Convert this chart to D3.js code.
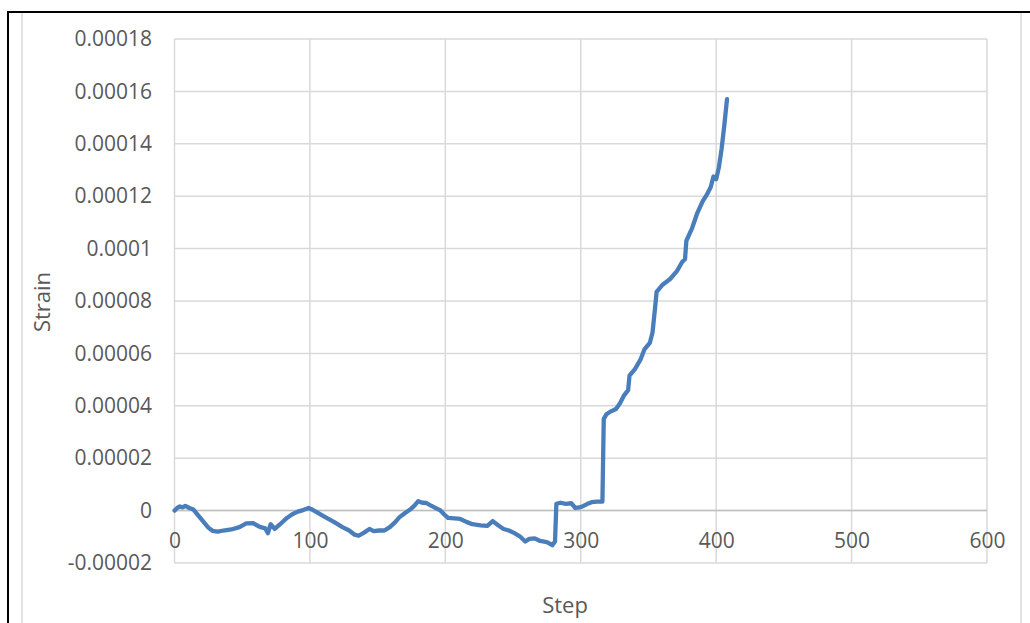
<!DOCTYPE html>
<html>
<head>
<meta charset="utf-8">
<script src="https://cdn.jsdelivr.net/npm/d3@7"></script>
<style>
  html, body { margin: 0; padding: 0; background: #fff; }
  svg { display: block; }
  text { font-family: "Open Sans", "Liberation Sans", sans-serif; fill: #595959; }
</style>
</head>
<body>
<svg id="chart" width="1030" height="623"></svg>
<script>
// Strain recorded at each load step
const steps = [0, 2, 4, 6, 8, 11, 14, 17, 21, 25, 28, 32, 36, 42, 48, 53, 58, 63, 67, 69, 71, 74, 78, 83, 87, 91, 95, 99,
  102, 105, 109, 113, 118, 124, 129, 133, 136, 140, 144, 147, 151, 155, 159, 163, 166, 170, 174, 177, 180, 183, 186, 189, 192, 196, 199,
  202, 207, 211, 216, 220, 226, 231, 235, 239, 243, 247, 251, 255, 259, 262, 266, 270, 275, 279, 281, 282, 285, 289, 293, 296, 299,
  302, 305, 308, 312, 316, 317, 319, 322, 326, 329, 332, 335, 336, 340, 344, 347, 351, 353, 354, 355, 356, 360, 366, 371, 375, 377, 378,
  382, 386, 390, 393, 396, 398, 400, 402, 404, 406, 408];
const strain = [0.0e-6, 1.0e-6, 1.6e-6, 1.2e-6, 1.8e-6, 1.0e-6, 0.4e-6, -1.5e-6, -4.0e-6, -6.5e-6, -7.7e-6, -8.0e-6, -7.6e-6, -7.2e-6, -6.3e-6, -4.9e-6, -4.8e-6, -6.2e-6, -6.8e-6, -8.6e-6, -5.2e-6, -7.0e-6, -5.2e-6, -2.8e-6, -1.4e-6, -0.4e-6, 0.2e-6, 1.0e-6,
  0.3e-6, -0.6e-6, -1.8e-6, -3.0e-6, -4.4e-6, -6.3e-6, -7.6e-6, -9.2e-6, -9.6e-6, -8.4e-6, -7.0e-6, -7.8e-6, -7.6e-6, -7.6e-6, -6.3e-6, -4.4e-6, -2.6e-6, -1.0e-6, 0.4e-6, 1.8e-6, 3.6e-6, 3.0e-6, 2.9e-6, 2.0e-6, 1.2e-6, 0.2e-6, -1.4e-6,
  -2.8e-6, -3.0e-6, -3.2e-6, -4.4e-6, -5.2e-6, -5.6e-6, -5.8e-6, -4.0e-6, -5.6e-6, -7.0e-6, -7.6e-6, -8.6e-6, -9.8e-6, -11.8e-6, -10.8e-6, -10.6e-6, -11.6e-6, -12.0e-6, -13.2e-6, -11.8e-6, 2.6e-6, 3.0e-6, 2.6e-6, 2.8e-6, 1.0e-6, 1.2e-6,
  1.8e-6, 2.6e-6, 3.2e-6, 3.4e-6, 3.4e-6, 35e-6, 36.8e-6, 37.8e-6, 38.8e-6, 41e-6, 44e-6, 46e-6, 51.5e-6, 54e-6, 57.5e-6, 61.5e-6, 64e-6, 68e-6, 73e-6, 78e-6, 83.5e-6, 86e-6, 88.4e-6, 91.4e-6, 95e-6, 96e-6, 103e-6,
  107.5e-6, 113.5e-6, 118e-6, 120.5e-6, 123.5e-6, 127.5e-6, 126.5e-6, 131e-6, 138e-6, 147e-6, 157e-6];

const xTicks = [0, 100, 200, 300, 400, 500, 600];
const yTicks = [-0.00002, 0, 0.00002, 0.00004, 0.00006, 0.00008, 0.0001, 0.00012, 0.00014, 0.00016, 0.00018];
const yTickLabels = ["-0.00002", "0", "0.00002", "0.00004", "0.00006", "0.00008", "0.0001", "0.00012", "0.00014", "0.00016", "0.00018"];
const xTitle = "Step";
const yTitle = "Strain";

const svg = d3.select("#chart");
const W = 1030, H = 623;
const plot = { left: 174.5, right: 987, top: 39, bottom: 563 };

const x = d3.scaleLinear().domain([0, 600]).range([plot.left, plot.right]);
const y = d3.scaleLinear().domain([-0.00002, 0.00018]).range([plot.bottom, plot.top]);

// page frame lines
svg.append("line").attr("x1", 7).attr("x2", W).attr("y1", 12).attr("y2", 12)
  .attr("stroke", "#000").attr("stroke-width", 2);
svg.append("line").attr("x1", 8).attr("x2", 8).attr("y1", 11).attr("y2", H)
  .attr("stroke", "#000").attr("stroke-width", 2);
// chart area border
svg.append("line").attr("x1", 22).attr("x2", 22).attr("y1", 13).attr("y2", H)
  .attr("stroke", "#d9d9d9").attr("stroke-width", 1.5);
svg.append("line").attr("x1", 1021).attr("x2", 1021).attr("y1", 13).attr("y2", H)
  .attr("stroke", "#d9d9d9").attr("stroke-width", 1.5);

// gridlines
const grid = svg.append("g").attr("class", "grid");
grid.selectAll("line.h").data(yTicks).enter().append("line")
  .attr("x1", plot.left).attr("x2", plot.right)
  .attr("y1", d => y(d)).attr("y2", d => y(d))
  .attr("stroke", "#d9d9d9").attr("stroke-width", 1.5);
grid.selectAll("line.v").data(xTicks).enter().append("line")
  .attr("x1", d => x(d)).attr("x2", d => x(d))
  .attr("y1", plot.top).attr("y2", plot.bottom)
  .attr("stroke", "#d9d9d9").attr("stroke-width", 1.5);

// horizontal axis crossing at zero
svg.append("line").attr("x1", plot.left).attr("x2", plot.right)
  .attr("y1", y(0)).attr("y2", y(0))
  .attr("stroke", "#bfbfbf").attr("stroke-width", 1.5);

// y tick labels
const yAxis = d3.axisLeft(y).tickValues(yTicks).tickSize(0).tickPadding(0)
  .tickFormat((d, i) => yTickLabels[i]);
const gy = svg.append("g").attr("transform", `translate(152,0)`).call(yAxis);
gy.select(".domain").remove();
gy.selectAll("text").attr("font-size", 21).attr("fill", "#595959")
  .style("font-family", "'Open Sans', sans-serif");

// x tick labels, placed just below the zero line
const xAxis = d3.axisBottom(x).tickValues(xTicks).tickSize(0).tickPadding(0)
  .tickFormat(d3.format("d"));
const gx = svg.append("g").attr("transform", `translate(0,${y(0) + 31})`).call(xAxis);
gx.select(".domain").remove();
gx.selectAll("text").attr("font-size", 21).attr("fill", "#595959")
  .attr("dy", "0.32em").attr("y", 0)
  .style("font-family", "'Open Sans', sans-serif");

// series line
const pts = steps.map((s, i) => [s, strain[i]]);
svg.append("path").datum(pts)
  .attr("d", d3.line().x(d => x(d[0])).y(d => y(d[1])))
  .attr("fill", "none").attr("stroke", "#4a7ebb").attr("stroke-width", 4.3)
  .attr("stroke-linejoin", "round").attr("stroke-linecap", "round");

// axis titles
svg.append("text").attr("x", 565).attr("y", 605).attr("text-anchor", "middle")
  .attr("dy", "0.35em").attr("font-size", 22).text(xTitle);
svg.append("text").attr("transform", "translate(42,302) rotate(-90)")
  .attr("text-anchor", "middle").attr("dy", "0.35em").attr("font-size", 22).text(yTitle);
</script>
</body>
</html>
